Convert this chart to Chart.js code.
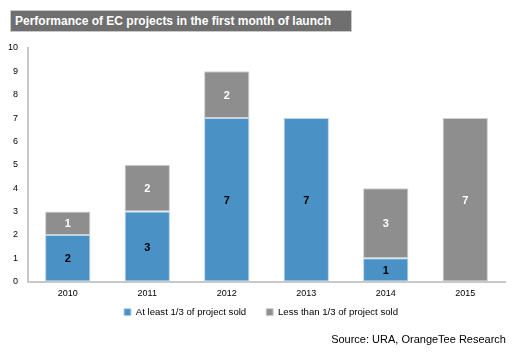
<!DOCTYPE html>
<html><head><meta charset="utf-8">
<script src="https://cdn.jsdelivr.net/npm/chart.js@4.4.0/dist/chart.umd.min.js"></script>
<style>
html,body{margin:0;padding:0;background:#fff;}
#wrap{position:relative;width:522px;height:355px;overflow:hidden;}
#title{position:absolute;left:10px;top:10px;width:336px;height:20px;background:#6f6f6f;border:1px solid #c8c8c8;color:#fff;font:bold 12px "Liberation Sans",Arial,sans-serif;line-height:20px;padding-left:4px;box-sizing:content-box;white-space:nowrap;}
#source{position:absolute;right:16px;top:333px;font:11px "Liberation Sans",Arial,sans-serif;color:#000;}
canvas{position:absolute;left:0;top:0;}
</style></head>
<body><div id="wrap">
<canvas id="c" width="522" height="355"></canvas>
<div id="title">Performance of EC projects in the first month of launch</div>
<div id="source">Source: URA, OrangeTee Research</div>
</div>
<script>
const categories = ["2010","2011","2012","2013","2014","2015"];
const atLeastThird = [2,3,7,7,1,0];
const lessThanThird = [1,2,2,0,3,7];
const seriesNames = ["At least 1/3 of project sold","Less than 1/3 of project sold"];
const yTicks = [0,1,2,3,4,5,6,7,8,9,10];

const labelPlugin = {
  id:'barLabels',
  afterLayout(chart){
    if(chart.legend){ chart.legend.top -= 19; chart.legend.bottom -= 19; }
  },
  afterDatasetsDraw(chart){
    const ctx = chart.ctx;
    chart.data.datasets.forEach((ds,i)=>{
      const meta = chart.getDatasetMeta(i);
      meta.data.forEach((bar,j)=>{
        const v = ds.data[j];
        if(!v) return;
        const p = bar.getProps(['x','y','base'],true);
        ctx.save();
        ctx.font = 'bold 11px "Liberation Sans", Arial, sans-serif';
        ctx.fillStyle = i===0 ? '#000' : '#fff';
        ctx.textAlign='center';ctx.textBaseline='middle';
        ctx.fillText(String(v), p.x, (p.y+p.base)/2+1);
        ctx.restore();
      });
    });
  }
};

const font9 = {family:'"Liberation Sans", Arial, sans-serif',size:9};

new Chart(document.getElementById('c'),{
  type:'bar',
  data:{labels:categories,datasets:[
    {label:seriesNames[0],data:atLeastThird,backgroundColor:'#4a91c5',borderColor:'#b9d5ec',borderWidth:1,borderSkipped:false,categoryPercentage:1,barPercentage:0.57},
    {label:seriesNames[1],data:lessThanThird,backgroundColor:'#8e8e8e',borderColor:'#d0d0d0',borderWidth:1,borderSkipped:false,categoryPercentage:1,barPercentage:0.57}
  ]},
  options:{
    responsive:false,animation:false,
    layout:{padding:{left:0,right:0,top:48,bottom:9}},
    plugins:{
      legend:{position:'bottom',labels:{boxWidth:7,boxHeight:7,padding:20,color:'#000',font:{family:'"Liberation Sans", Arial, sans-serif',size:9.6}}},
      tooltip:{enabled:false}
    },
    scales:{
      x:{stacked:true,grid:{display:false,drawTicks:false},border:{color:'#c8c8c8',width:2},
         ticks:{color:'#000',padding:7,font:font9}},
      y:{stacked:true,min:0,max:10,grid:{display:false,drawTicks:false},border:{color:'#c8c8c8',width:2},
         afterBuildTicks(s){s.ticks=yTicks.map(v=>({value:v}));},
         afterFit(s){s.width=28;},
         ticks:{color:'#000',padding:10,font:font9}},
      yr:{position:'right',display:true,min:0,max:10,grid:{display:false,drawTicks:false},border:{display:false},
         ticks:{display:false},afterFit(s){s.width=17;}}
    }
  },
  plugins:[labelPlugin]
});
</script></body></html>
